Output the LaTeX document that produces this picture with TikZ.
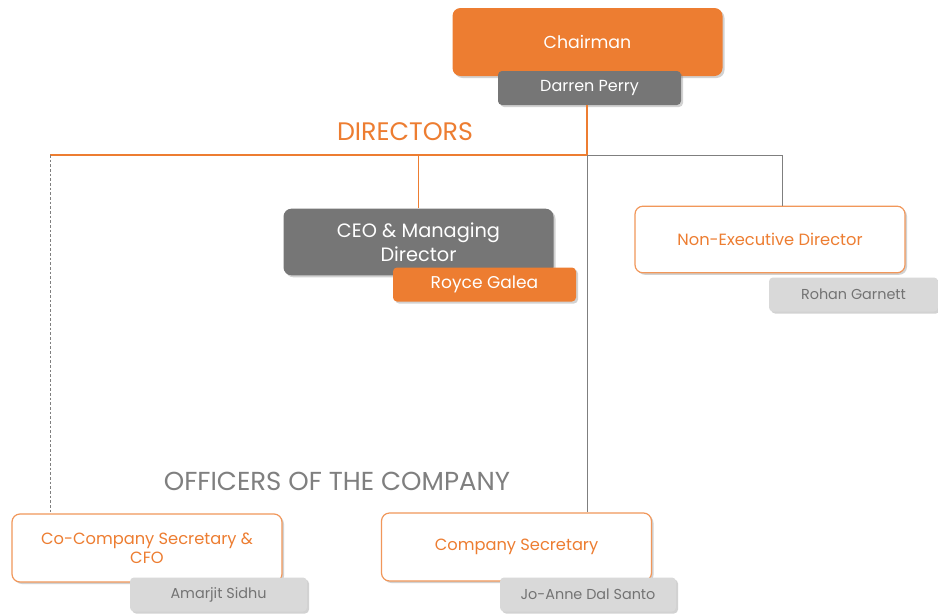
\documentclass[tikz,border=0pt]{standalone}
\usepackage{fontspec}
\setmainfont{Poppins}
\usetikzlibrary{shadows}
\definecolor{orng}{HTML}{ED7D31}
\definecolor{dgray}{HTML}{767676}
\definecolor{lgray}{HTML}{D9D9D9}
\definecolor{tgray}{HTML}{737373}
\definecolor{lgrayline}{HTML}{7F7F7F}
\begin{document}
\begin{tikzpicture}[x=0.75pt,y=-0.75pt,
  shad/.style={drop shadow={opacity=0.35,shadow xshift=1.5pt,shadow yshift=-1.5pt}},
  bigbox/.style={rounded corners=6pt,minimum width=202.5pt,minimum height=51pt,align=center,inner sep=2pt,shad},
  namebox/.style={rounded corners=3pt,minimum height=25.5pt,align=center,inner sep=2pt,shad},
  orbox/.style={bigbox,fill=white,draw=orng!80,line width=0.9pt,text=orng,font=\fontsize{12.2}{14.3}\selectfont},
  nmlight/.style={namebox,fill=lgray,text=tgray,font=\fontsize{10.8}{12}\selectfont},
  oline/.style={draw=orng,line width=0.8pt},
  gline/.style={draw=lgrayline,line width=0.7pt}]
\useasboundingbox[fill=white] (0,0) rectangle (938,614);
% coordinates
\coordinate (j) at (587,155);
\coordinate (L) at (50,155);
\coordinate (R) at (782,155);
% boxes
\node[bigbox,fill=orng,text=white,font=\fontsize{13}{15}\selectfont] (chair) at (587.5,42) {Chairman};
\node[bigbox,fill=dgray,text=white,font=\fontsize{14.5}{18}\selectfont,minimum height=50pt] (ceo) at (418.5,242) {CEO \& Managing\\Director};
\node[orbox,minimum height=50pt] (nonex) at (770,239.5) {Non-Executive Director};
\node[orbox] (coco) at (147,548) {Co-Company Secretary \&\\CFO};
\node[orbox] (csec) at (516.5,547) {Company Secretary};
% connectors
\draw[oline] (j) -- (L);
\draw[oline] (ceo.north |- j) -- (ceo.north);
\draw[gline] (j) -- (R) -- (R |- nonex.north);
\draw[gline] (j) -- (j |- csec.north);
\draw[gline,dashed,dash pattern=on 2pt off 1.5pt] (L) -- (L |- coco.north);
% name boxes
\node[namebox,fill=dgray,text=white,minimum width=137.25pt,font=\fontsize{12}{13}\selectfont] (darren) at (589.5,88) {Darren Perry};
\draw[oline] (darren.south -| j) -- (j);
\node[namebox,fill=orng,text=white,minimum width=137.25pt,font=\fontsize{12.8}{14}\selectfont] (royce) at (484.5,284.5) {Royce Galea};
\node[nmlight,minimum width=126.75pt] (rohan) at (853.5,294.5) {Rohan Garnett};
\node[nmlight,minimum width=132.75pt] (amar) at (218.5,594.5) {Amarjit Sidhu};
\node[nmlight,minimum width=132pt] (jo) at (588,594.5) {Jo-Anne Dal Santo};
% headings
\node[text=orng,font=\fontsize{19}{22}\selectfont,inner sep=0pt] (dirs) at (405,132) {DIRECTORS};
\node[text=lgrayline,font=\fontsize{19.5}{22}\selectfont,inner sep=0pt] (offs) at (337,481) {OFFICERS OF THE COMPANY};
\end{tikzpicture}
\end{document}
